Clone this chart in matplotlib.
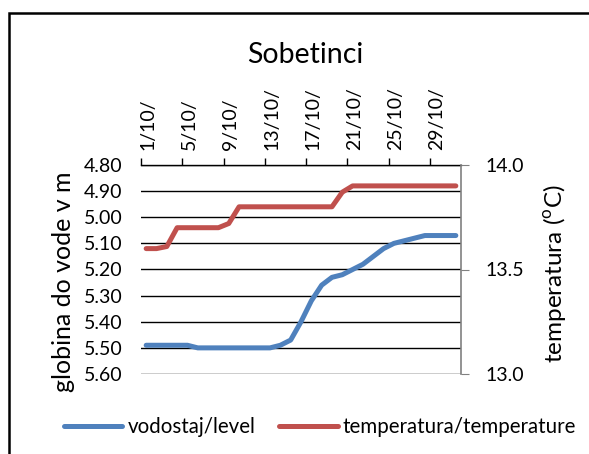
import numpy as np
import matplotlib.pyplot as plt
from matplotlib.patches import Rectangle
from matplotlib.transforms import ScaledTranslation

plt.rcParams['font.family'] = ['Lato', 'DejaVu Sans']
plt.rcParams['mathtext.fontset'] = 'custom'
plt.rcParams['mathtext.rm'] = 'Lato'

# daily values, October
days = np.arange(1, 32)
level = [5.49, 5.49, 5.49, 5.49, 5.49, 5.50, 5.50, 5.50, 5.50, 5.50,
         5.50, 5.50, 5.50, 5.49, 5.47, 5.40, 5.32, 5.26, 5.23, 5.22,
         5.20, 5.18, 5.15, 5.12, 5.10, 5.09, 5.08, 5.07, 5.07, 5.07, 5.07]
temp = [13.60, 13.60, 13.61, 13.70, 13.70, 13.70, 13.70, 13.70, 13.72, 13.80,
        13.80, 13.80, 13.80, 13.80, 13.80, 13.80, 13.80, 13.80, 13.80, 13.87,
        13.90, 13.90, 13.90, 13.90, 13.90, 13.90, 13.90, 13.90, 13.90, 13.90, 13.90]
tick_days = [1, 5, 9, 13, 17, 21, 25, 29]
tick_labels = [f"{d}/10/" for d in tick_days]

blue = '#4F81BD'
red = '#C0504D'

fig = plt.figure(figsize=(5.89, 4.54), dpi=100)
W, H = 589, 454
ax = fig.add_axes([141 / W, 1 - 374 / H, 320 / W, 209 / H])

ax.plot(days, level, color=blue, lw=3.6, solid_capstyle='round', solid_joinstyle='round',
        label='vodostaj/level')
ax.set_xlim(0.5, 31.5)
ax.set_ylim(5.60, 4.80)
ax.set_yticks(np.arange(4.8, 5.61, 0.1))
ax.set_yticklabels([f"{v:.2f}" for v in np.arange(4.8, 5.61, 0.1)])
ax.tick_params(axis='y', length=0, pad=13.5, labelsize=14)
ax.grid(axis='y', color='black', lw=1)
ax.set_axisbelow(True)

ax.xaxis.tick_top()
ax.set_xticks([d - 0.5 for d in tick_days])
ax.set_xticklabels(tick_labels, rotation=90, fontsize=14)
ax.tick_params(axis='x', length=5, width=1, color='black', pad=6)
offset = ScaledTranslation(5 / 72, 0, fig.dpi_scale_trans)
for lbl in ax.get_xticklabels():
    lbl.set_transform(lbl.get_transform() + offset)

for s in ['left', 'bottom', 'right']:
    ax.spines[s].set_visible(False)
ax.spines['top'].set_color('black')
ax.spines['top'].set_linewidth(1)

ax.set_ylabel('globina do vode v m', fontsize=18)
ax.yaxis.set_label_coords(-0.205, 0.44)

ax2 = ax.twinx()
ax2.plot(days, temp, color=red, lw=3.6, solid_capstyle='round', solid_joinstyle='round',
         label='temperatura/temperature')
ax2.set_ylim(13.0, 14.0)
ax2.set_yticks([13.0, 13.5, 14.0])
ax2.set_yticklabels(['13.0', '13.5', '14.0'])
ax2.tick_params(axis='y', length=6, color='#808080', pad=11.5, labelsize=14)
for s in ['left', 'bottom', 'top']:
    ax2.spines[s].set_visible(False)
ax2.spines['right'].set_color('#808080')
ax2.spines['right'].set_linewidth(1.2)
ax2.set_ylabel(r'temperatura ($^{\mathrm{o}}$C)', fontsize=17.5)
ax2.yaxis.set_label_coords(1.25, 0.48)

fig.text(305 / W, 1 - 63 / H, 'Sobetinci', ha='center', va='baseline', fontsize=20.5)

h1, l1 = ax.get_legend_handles_labels()
h2, l2 = ax2.get_legend_handles_labels()
fig.legend(h1 + h2, l1 + l2, loc='center', bbox_to_anchor=(320 / W, 1 - 427 / H), ncol=2,
           frameon=False, fontsize=14.8, handlelength=2.85, handletextpad=0.26, columnspacing=1.15)

fig.add_artist(Rectangle((9 / W, -0.1), 1.2, 1.1 - 13 / H, transform=fig.transFigure,
                         fill=False, edgecolor='black', lw=1.8))

fig.savefig('out.png', dpi=100)
